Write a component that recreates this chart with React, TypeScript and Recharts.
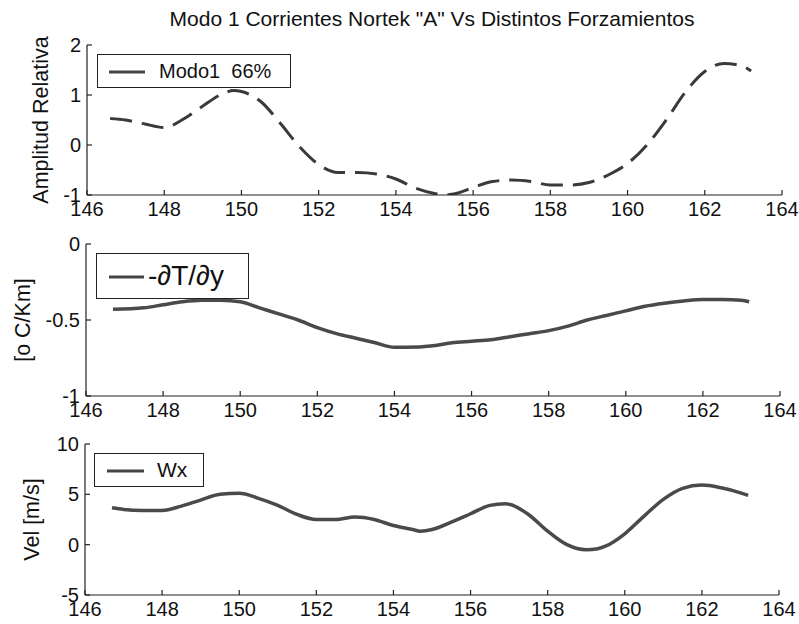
import React from 'react';
import {
  LineChart,
  Line,
  XAxis,
  YAxis,
  Legend,
  Label,
} from 'recharts';

const FONT = '"Liberation Sans", Arial, sans-serif';

// longitudes (x) and values per panel
const xTicks = [146, 148, 150, 152, 154, 156, 158, 160, 162, 164];

const xs1 = [146.6, 147, 147.5, 148, 148.5, 149, 149.5, 149.8, 150, 150.5, 151, 151.5, 152, 152.5, 153, 153.5, 154, 154.5, 155, 155.3, 155.5, 156, 156.5, 157, 157.5, 158, 158.5, 159, 159.5, 160, 160.5, 161, 161.5, 162, 162.5, 162.8, 163, 163.2];
const modo1 = [0.53, 0.5, 0.42, 0.35, 0.52, 0.78, 1.02, 1.09, 1.07, 0.87, 0.44, -0.03, -0.39, -0.55, -0.55, -0.58, -0.68, -0.86, -0.97, -1.0, -0.98, -0.85, -0.73, -0.7, -0.73, -0.8, -0.8, -0.75, -0.6, -0.37, 0.0, 0.5, 1.06, 1.47, 1.63, 1.61, 1.57, 1.48];

const xs2 = [146.7, 147.5, 148, 148.5, 149, 149.5, 150, 150.5, 151, 151.5, 152, 152.5, 153, 153.5, 154, 154.3, 155, 155.5, 156, 156.5, 157, 157.5, 158, 158.5, 159, 159.5, 160, 160.5, 161, 161.5, 162, 162.5, 163, 163.2];
const gradT = [-0.43, -0.42, -0.4, -0.38, -0.37, -0.37, -0.38, -0.42, -0.46, -0.5, -0.55, -0.59, -0.62, -0.65, -0.68, -0.68, -0.67, -0.65, -0.64, -0.63, -0.61, -0.59, -0.57, -0.54, -0.5, -0.47, -0.44, -0.41, -0.39, -0.375, -0.365, -0.365, -0.37, -0.38];

const xs3 = [146.7, 147, 147.5, 148, 148.5, 149, 149.5, 150, 150.5, 151, 151.5, 152, 152.5, 153, 153.5, 154, 154.5, 154.7, 155, 155.5, 156, 156.5, 156.9, 157.5, 158, 158.5, 159, 159.3, 159.5, 160, 160.5, 161, 161.5, 162, 162.5, 163, 163.2];
const wx = [3.66, 3.5, 3.4, 3.4, 3.83, 4.43, 5.0, 5.1, 4.6, 3.9, 3.0, 2.5, 2.5, 2.74, 2.5, 1.9, 1.5, 1.34, 1.5, 2.24, 3.07, 3.9, 4.06, 3.0, 1.34, 0.0, -0.5, -0.4, -0.15, 1.08, 2.84, 4.5, 5.6, 5.92, 5.65, 5.15, 4.9];

const ticks1 = [-1, 0, 1, 2];
const ticks2 = [-1, -0.5, 0];
const ticks3 = [-5, 0, 5, 10];

const toRows = (xs: number[], ys: number[]) => xs.map((x, i) => ({ x, y: ys[i] }));

const tickStyle = { fontSize: 20, fill: '#111', fontFamily: FONT };
const axisColor = '#222';

interface LegendBoxProps {
  left: number;
  top: number;
  width: number;
  height: number;
  lineX: [number, number];
  textX: number;
  fontSize: number;
  children: React.ReactNode;
}

const LegendBox = ({ width, height, lineX, textX, fontSize, children }: LegendBoxProps) => (
  <div
    style={{
      position: 'relative',
      width,
      height,
      boxSizing: 'border-box',
      border: '1px solid #222',
      background: '#fff',
      fontFamily: FONT,
    }}
  >
    <svg width={width} height={height} style={{ position: 'absolute', left: 0, top: 0 }}>
      <line x1={lineX[0]} x2={lineX[1]} y1={height / 2} y2={height / 2} stroke="#444" strokeWidth={3} />
    </svg>
    <div
      style={{
        position: 'absolute',
        left: textX,
        top: 0,
        height: '100%',
        display: 'flex',
        alignItems: 'center',
        fontSize,
        color: '#111',
        whiteSpace: 'pre',
      }}
    >
      {children}
    </div>
  </div>
);

interface PanelProps {
  rows: { x: number; y: number }[];
  yDomain: [number, number];
  yTicks: number[];
  yLabel: string;
  labelDx: number;
  top: number;
  height: number;
  margin: { top: number; right: number; bottom: number; left: number };
  xHeight: number;
  dashed?: boolean;
  legend: LegendBoxProps;
}

const Panel = ({ rows, yDomain, yTicks, yLabel, labelDx, top, height, margin, xHeight, dashed, legend }: PanelProps) => (
  <div style={{ position: 'absolute', left: 0, top }}>
    <LineChart width={799} height={height} data={rows} margin={margin}>
      <XAxis
        dataKey="x"
        type="number"
        domain={[146, 164]}
        ticks={xTicks}
        height={xHeight}
        tick={tickStyle}
        tickSize={-5}
        tickMargin={12}
        stroke={axisColor}
        strokeWidth={1.2}
        allowDataOverflow
      />
      <XAxis
        xAxisId="top"
        orientation="top"
        dataKey="x"
        type="number"
        domain={[146, 164]}
        ticks={xTicks}
        height={0}
        tick={false}
        tickSize={-5}
        stroke={axisColor}
        strokeWidth={1.2}
        allowDataOverflow
      />
      <YAxis
        type="number"
        domain={yDomain}
        ticks={yTicks}
        width={60}
        tick={tickStyle}
        tickSize={-5}
        tickMargin={11}
        stroke={axisColor}
        strokeWidth={1.2}
        allowDataOverflow
      >
        <Label
          value={yLabel}
          position="center"
          angle={-90}
          dx={labelDx}
          fontSize={21.5}
          fill="#111"
          fontFamily={FONT}
        />
      </YAxis>
      <YAxis
        yAxisId="right"
        orientation="right"
        type="number"
        domain={yDomain}
        ticks={yTicks}
        width={0}
        tick={false}
        tickSize={-5}
        stroke={axisColor}
        strokeWidth={1.2}
        allowDataOverflow
      />
      <Legend
        layout="vertical"
        align="center"
        verticalAlign="middle"
        wrapperStyle={{ left: legend.left, top: legend.top, width: legend.width, height: legend.height }}
        content={() => <LegendBox {...legend} />}
      />
      <Line
        type="monotone"
        dataKey="y"
        stroke={dashed ? '#3a3a3a' : '#4a4a4a'}
        strokeWidth={dashed ? 3 : 3.5}
        strokeDasharray={dashed ? '22 10' : undefined}
        dot={false}
        isAnimationActive={false}
      />
    </LineChart>
  </div>
);

export default function App() {
  return (
    <div style={{ position: 'absolute', left: 0, top: 0, width: 799, height: 624, background: '#fff', overflow: 'hidden' }}>
      <div
        style={{
          position: 'absolute',
          left: 0,
          width: 864,
          top: 7,
          textAlign: 'center',
          fontFamily: FONT,
          fontSize: 21,
          color: '#111',
          whiteSpace: 'pre',
        }}
      >
        Modo 1 Corrientes Nortek "A" Vs Distintos Forzamientos
      </div>
      <Panel
        rows={toRows(xs1, modo1)}
        yDomain={[-1, 2]}
        yTicks={ticks1}
        yLabel="Amplitud Relativa"
        labelDx={-17}
        top={0}
        height={225}
        margin={{ top: 45, right: 17, bottom: 0, left: 27 }}
        xHeight={30}
        dashed
        legend={{
          left: 97,
          top: 54,
          width: 194,
          height: 34,
          lineX: [11, 47],
          textX: 61,
          fontSize: 20,
          children: 'Modo1  66%',
        }}
      />
      <Panel
        rows={toRows(xs2, gradT)}
        yDomain={[-1, 0]}
        yTicks={ticks2}
        yLabel="[o C/Km]"
        labelDx={-34}
        top={220}
        height={205}
        margin={{ top: 24, right: 19, bottom: 0, left: 26 }}
        xHeight={29}
        legend={{
          left: 96,
          top: 33,
          width: 153,
          height: 46,
          lineX: [12, 47],
          textX: 51,
          fontSize: 28,
          children: '-∂T/∂y',
        }}
      />
      <Panel
        rows={toRows(xs3, wx)}
        yDomain={[-5, 10]}
        yTicks={ticks3}
        yLabel="Vel [m/s]"
        labelDx={-24}
        top={420}
        height={204}
        margin={{ top: 24, right: 20, bottom: 0, left: 25 }}
        xHeight={29}
        legend={{
          left: 94,
          top: 33,
          width: 110,
          height: 34,
          lineX: [12, 49],
          textX: 62,
          fontSize: 21,
          children: 'Wx',
        }}
      />
    </div>
  );
}
